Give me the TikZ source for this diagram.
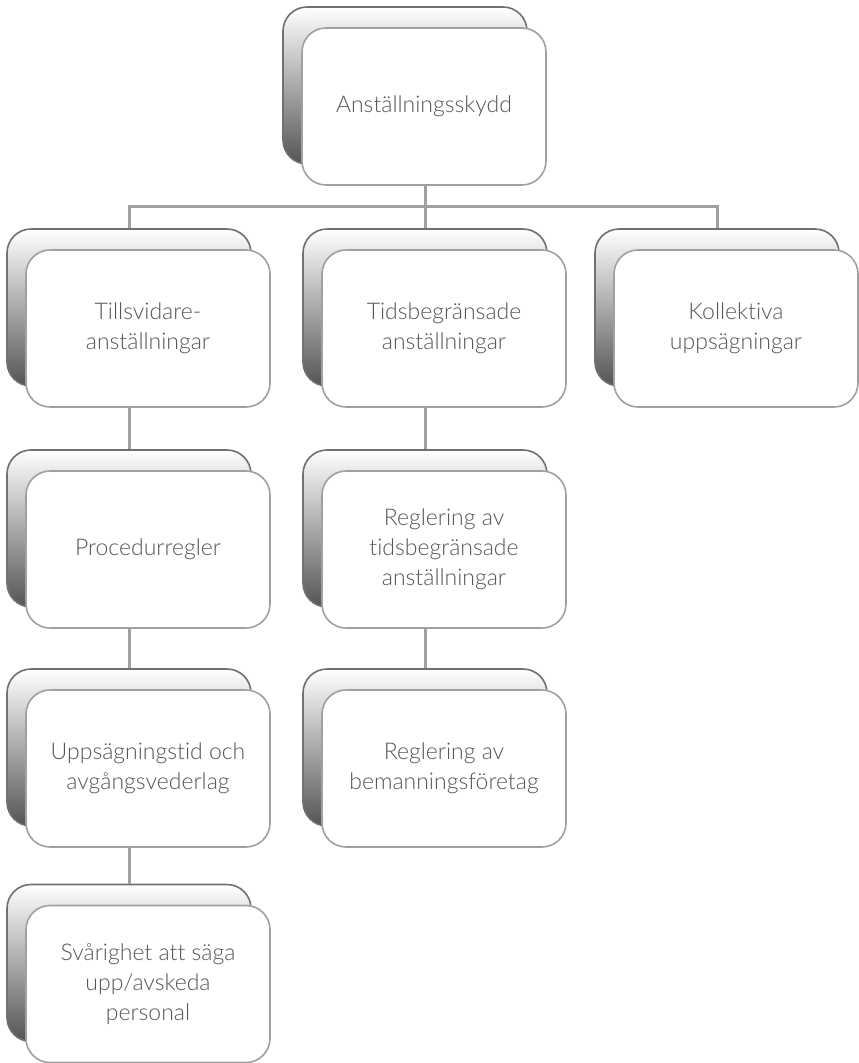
\documentclass[tikz,border=0pt]{standalone}
\usepackage{fontspec}
\setmainfont{Lato Light}[Ligatures=NoCommon]
\usepackage{tikz}
\usetikzlibrary{positioning}
\definecolor{txtgray}{RGB}{85,85,85}
\definecolor{edgegray}{RGB}{160,160,160}
\definecolor{backedge}{RGB}{112,112,112}
\definecolor{shademid}{RGB}{205,205,205}
\definecolor{shadedark}{RGB}{84,84,84}

\begin{document}
\begin{tikzpicture}[x=1pt, y=-1pt,
        back/.style={rectangle, rounded corners=24pt, draw=backedge, line width=1.6pt, top color=white, middle color=shademid, bottom color=shadedark, minimum width=244pt, minimum height=157pt, inner sep=0pt},
        card/.style={rectangle, rounded corners=24pt, draw=edgegray, line width=1.6pt, fill=white, minimum width=244pt, minimum height=157pt, align=center, text=txtgray, font=\fontsize{23}{30}\selectfont},
        link/.style={draw=edgegray, line width=3pt}]
            \useasboundingbox (0, 0) rectangle (859, 1063);

            \node[back] (b1) at (405, 85.5) {};
            \node[card] (1) at (424, 106.5) {Anställningsskydd};
            \node[back] (b2) at (129, 307.5) {};
            \node[card] (2) at (148, 328.5) {Tillsvidare-\\anställningar};
            \node[back] (b3) at (425, 307.5) {};
            \node[card] (3) at (444, 328.5) {Tidsbegränsade\\anställningar};
            \node[back] (b4) at (717, 307.5) {};
            \node[card] (4) at (736, 328.5) {Kollektiva\\uppsägningar};
            \node[back] (b5) at (129, 528.5) {};
            \node[card] (5) at (148, 549.5) {Procedurregler};
            \node[back] (b6) at (129, 747.5) {};
            \node[card] (6) at (148, 768.5) {Uppsägningstid och\\avgångsvederlag};
            \node[back] (b7) at (129, 963) {};
            \node[card] (7) at (148, 984) {Svårighet att säga\\upp/avskeda\\personal};
            \node[back] (b8) at (425, 528.5) {};
            \node[card] (8) at (444, 549.5) {Reglering av\\tidsbegränsade\\anställningar};
            \node[back] (b9) at (425, 747.5) {};
            \node[card] (9) at (444, 768.5) {Reglering av\\bemanningsföretag};

            \coordinate (fork) at (425, 206);
            \draw[link] (1.south -| fork) -- (fork);
            \draw[link] (b2.north) |- (fork) -| (b4.north);
            \draw[link] (fork) -- (b3.north);
            \draw[link] (2.south -| b5.north) -- (b5.north);
            \draw[link] (5.south -| b6.north) -- (b6.north);
            \draw[link] (6.south -| b7.north) -- (b7.north);
            \draw[link] (3.south -| b8.north) -- (b8.north);
            \draw[link] (8.south -| b9.north) -- (b9.north);
        \end{tikzpicture}
\end{document}
